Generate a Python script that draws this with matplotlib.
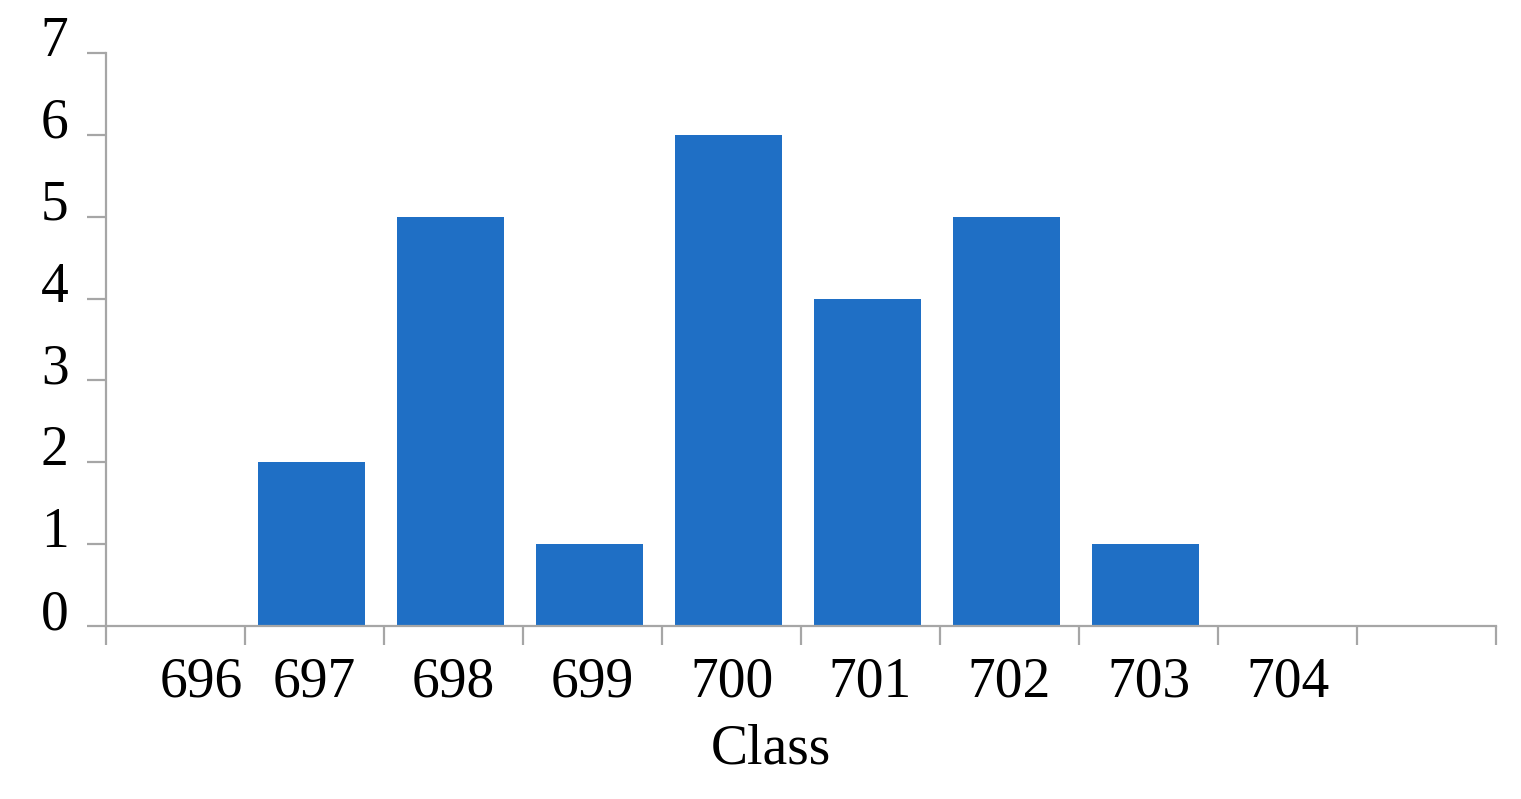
import matplotlib
matplotlib.use("Agg")
import matplotlib.pyplot as plt
import matplotlib.transforms as mtransforms
import numpy as np

categories = ["696", "697", "698", "699", "700", "701", "702", "703", "704", ""]
counts = [0, 2, 5, 1, 6, 4, 5, 1, 0, 0]
y_ticks = [0, 1, 2, 3, 4, 5, 6, 7]

plt.rcParams['font.family'] = ['Liberation Serif', 'DejaVu Serif']

fig = plt.figure(figsize=(15.21, 7.99), dpi=100)
ax = fig.add_axes([106/1521, 1-626/799, (1496-106)/1521, (626-53)/799])

x = np.arange(len(categories))
ax.bar(x - 0.025, counts, width=0.77, color='#1F6FC5', zorder=2)

ax.set_xlim(-0.5, len(categories) - 0.5)
ax.set_ylim(0, 7)

grey = '#A6A6A6'
for s in ['top', 'right']:
    ax.spines[s].set_visible(False)
for s in ['left', 'bottom']:
    ax.spines[s].set_color(grey)
    ax.spines[s].set_linewidth(1.6)

ax.set_xticks(x)
ax.set_xticklabels(categories, fontsize=40)
ax.set_xticks(np.arange(-0.5, len(categories)), minor=True)
ax.tick_params(axis='x', which='major', length=0, pad=22)
ax.tick_params(axis='x', which='minor', length=14, width=1.6, color=grey)

ax.set_yticks(y_ticks)
ax.set_yticklabels([str(v) for v in y_ticks], fontsize=40)
ax.tick_params(axis='y', length=14, width=1.6, color=grey, pad=13)
off = mtransforms.ScaledTranslation(0, 17/100, fig.dpi_scale_trans)
for lab in ax.get_yticklabels():
    lab.set_transform(lab.get_transform() + off)

# first label sits right of its category centre
off1 = mtransforms.ScaledTranslation(26/100, 0, fig.dpi_scale_trans)
lab0 = ax.get_xticklabels()[0]
lab0.set_transform(lab0.get_transform() + off1)

ax.set_xlabel("Class", fontsize=40)
ax.xaxis.set_label_coords((771-106)/(1496-106), -0.215)
ax.xaxis.label.set_va('center')

fig.savefig("out.png", dpi=100)
